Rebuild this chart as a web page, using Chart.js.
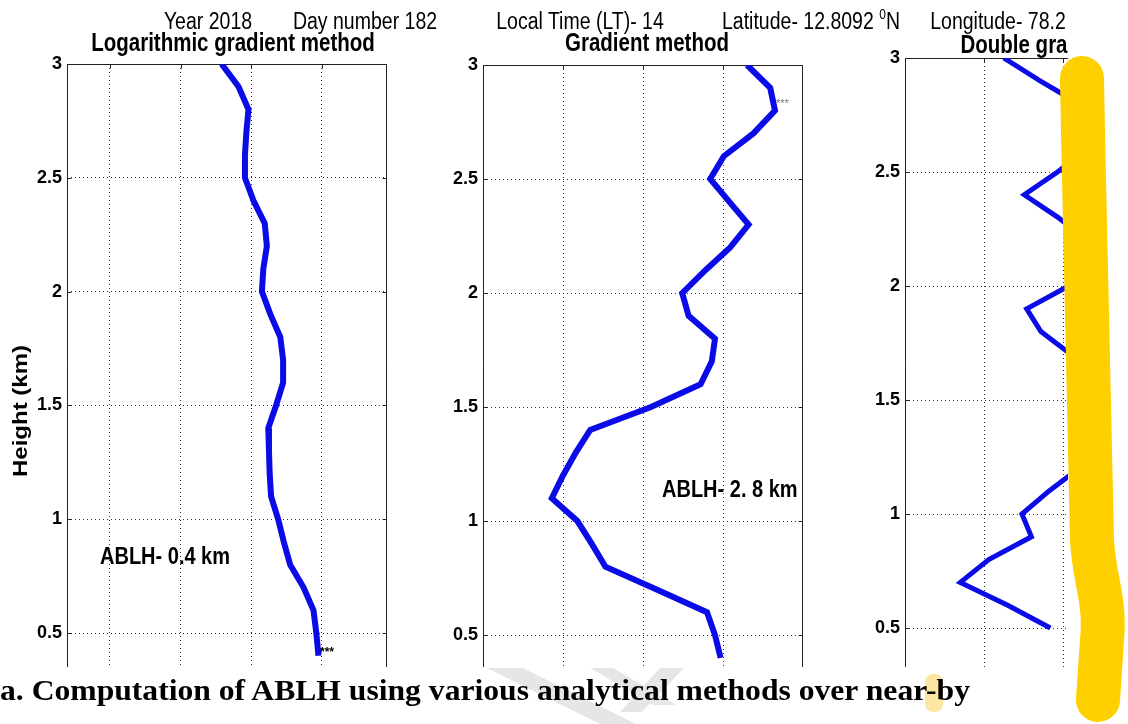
<!DOCTYPE html>
<html>
<head>
<meta charset="utf-8">
<script src="https://cdn.jsdelivr.net/npm/chart.js@4.4.1/dist/chart.umd.min.js"></script>
<style>
  html, body { margin: 0; padding: 0; background: #fff; }
  body { width: 1128px; height: 724px; position: relative; overflow: hidden; }
  canvas { position: absolute; left: 0; top: 0; }
  .t { position: absolute; white-space: nowrap; line-height: 1; color: #000;
       font-family: "Liberation Sans", Arial, sans-serif; transform-origin: 50% 0; }
  .hd { font-size: 19.5px; transform: translateX(-50%) scaleY(1.25); }
  .ti { font-size: 20.5px; font-weight: bold; transform: translateX(-50%) scaleY(1.25); }
  .ab { font-size: 20px; font-weight: bold; transform-origin: 0 0; transform: scaleY(1.2); }
  .hd sup { font-size: 12px; vertical-align: baseline; position: relative; top: -8px; }
  #cap { position: absolute; left: 0; top: 675px; white-space: nowrap; line-height: 1;
         font-family: "Liberation Serif", "Times New Roman", serif; font-weight: bold;
         font-size: 30px; color: #000; transform-origin: 0 0; z-index: 4; }
</style>
</head>
<body>
<canvas id="logChart" width="1128" height="724"></canvas>
<canvas id="gradChart" width="1128" height="724"></canvas>
<canvas id="dblChart" width="1128" height="724"></canvas>

<svg width="1128" height="724" style="position:absolute;left:0;top:0;z-index:3">
  <g fill="#e6e6e6">
    <polygon points="487,668 523,668 636,724 600,724"/>
    <polygon points="590,668 613,668 676,705 653,705"/>
    <polygon points="660,668 684,668 642,712 620,712"/>
  </g>
  <rect x="925" y="674" width="18" height="38" rx="8" fill="#fbe7a2"/>
</svg>

<div class="t hd" style="left:208px;top:9px">Year 2018</div>
<div class="t hd" style="left:365px;top:9px">Day number 182</div>
<div class="t hd" style="left:580px;top:9px">Local Time (LT)- 14</div>
<div class="t hd" style="left:811px;top:9px">Latitude- 12.8092 <sup>0</sup>N</div>
<div class="t hd" style="left:998px;top:9px">Longitude- 78.2</div>

<div class="t ti" style="left:233px;top:30px">Logarithmic gradient method</div>
<div class="t ti" style="left:647px;top:30px">Gradient method</div>
<div class="t ti" style="left:1014px;top:32px">Double gra</div>

<div class="t" style="left:20px;top:411px;font-size:20px;font-weight:bold;transform-origin:50% 50%;transform:translate(-50%,-50%) rotate(-90deg) scale(1.2,1)">Height (km)</div>

<div class="t ab" style="left:100px;top:544px">ABLH- 0.4 km</div>
<div class="t ab" style="left:662px;top:477px">ABLH- 2. 8 km</div>

<div class="t" style="left:320px;top:646px;font-size:12px;font-weight:bold">***</div>
<div class="t" style="left:776px;top:98px;font-size:11px;color:#777">***</div>

<div id="cap">a. Computation of ABLH using various analytical methods over near-by</div>

<svg width="1128" height="724" style="position:absolute;left:0;top:0;z-index:5">
  <path d="M1082 78 C1085 250 1089 430 1092 540 C1094 580 1106 600 1102 640 L1098 700"
        stroke="#ffd000" stroke-width="44" fill="none" stroke-linecap="round" stroke-linejoin="round"/>
</svg>

<script>
// heights (km) of the profile samples, top to bottom
const heights = [3.0, 2.9, 2.8, 2.7, 2.6, 2.5, 2.4, 2.3, 2.2, 2.1, 2.0, 1.9, 1.8, 1.7,
                 1.6, 1.5, 1.4, 1.3, 1.2, 1.1, 1.0, 0.9, 0.8, 0.7, 0.6, 0.5, 0.4];
const logGradX = [2.58, 2.82, 2.96, 2.93, 2.91, 2.91, 3.03, 3.19, 3.22, 3.17, 3.15, 3.27, 3.41, 3.45,
                  3.45, 3.35, 3.24, 3.25, 3.26, 3.28, 3.38, 3.46, 3.55, 3.74, 3.88, 3.92, 3.95];
const gradX = [3.30, 3.59, 3.65, 3.38, 3.01, 2.84, 3.08, 3.32, 3.09, 2.78, 2.49, 2.57, 2.90, 2.86,
               2.72, 2.10, 1.34, 1.16, 1.00, 0.86, 1.18, 1.36, 1.53, 2.17, 2.80, 2.90, 2.97];
const dblHeights = [3.0, 2.9, 2.8, 2.7, 2.6, 2.5, 2.4, 2.3, 2.2, 2.1, 2.0, 1.9, 1.8, 1.7,
                    1.6, 1.5, 1.4, 1.3, 1.2, 1.1, 1.0, 0.9, 0.8, 0.7, 0.6, 0.5];
const dblGradX = [1.25, 1.71, 2.2, 2.4, 2.3, 1.93, 1.51, 1.94, 2.3, 2.4, 2.07, 1.54, 1.72, 2.1,
                  2.4, 2.5, 2.4, 2.3, 2.2, 1.82, 1.48, 1.60, 1.06, 0.70, 1.30, 1.84];

const heightTicks = [0.5, 1, 1.5, 2, 2.5, 3];
const logGridX = [1, 2, 3, 4];
const gradGridX = [1, 2, 3];
const dblGridX = [1, 2];

// matlab style box: solid top/left/right edges with small inward ticks
const frame = {
	id: 'frame',
	beforeDatasetsDraw(chart, args, opts) {
		const {ctx, chartArea: a, scales: {x, y}} = chart;
		const L = Math.round(a.left) + 0.5, R = Math.round(a.right) - 0.5, T = Math.round(a.top) + 0.5;
		ctx.save();
		ctx.strokeStyle = '#222';
		ctx.lineWidth = 1;
		ctx.beginPath();
		ctx.moveTo(L, a.bottom);
		ctx.lineTo(L, T);
		ctx.lineTo(opts.right ? R : a.right, T);
		if (opts.right) ctx.lineTo(R, a.bottom);
		x.ticks.forEach(t => {
			const px = Math.round(x.getPixelForValue(t.value)) + 0.5;
			ctx.moveTo(px, T); ctx.lineTo(px, T + 4);
		});
		y.ticks.forEach(t => {
			const py = Math.round(y.getPixelForValue(t.value)) + 0.5;
			ctx.moveTo(L, py); ctx.lineTo(L + 4, py);
			if (opts.right) { ctx.moveTo(R, py); ctx.lineTo(R - 4, py); }
		});
		ctx.stroke();
		ctx.restore();
	}
};

function makePanel(id, xs, hs, box, xRange, gridX, yMin, lineW, rightEdge) {
	const axisW = 60;
	return new Chart(document.getElementById(id), {
		type: 'line',
		data: {
			datasets: [{
				data: hs.map((h, i) => ({x: xs[i], y: h})),
				borderColor: '#0b0be8',
				borderWidth: lineW,
				pointRadius: 0,
				tension: 0,
				fill: false,
				clip: 0
			}]
		},
		options: {
			responsive: false,
			animation: false,
			devicePixelRatio: 1,
			layout: {padding: {left: box.left - axisW, top: box.top, right: 1128 - box.right, bottom: 724 - box.bottom}},
			plugins: {legend: {display: false}, tooltip: {enabled: false}, frame: {right: rightEdge}},
			scales: {
				x: {
					type: 'linear', min: xRange[0], max: xRange[1],
					ticks: {display: false},
					grid: {color: '#333', lineWidth: 1, drawTicks: false},
					border: {display: false, dash: [1, 3]},
					afterBuildTicks: s => { s.ticks = gridX.map(v => ({value: v})); },
					afterFit: s => { s.height = 0; }
				},
				y: {
					type: 'linear', min: yMin, max: 3,
					ticks: {
						color: '#000', padding: 5,
						font: {family: '"Liberation Sans", Arial, sans-serif', size: 18, weight: 'bold'},
						callback: v => String(v)
					},
					grid: {color: '#333', lineWidth: 1, drawTicks: false},
					border: {display: false, dash: [1, 3]},
					afterBuildTicks: s => { s.ticks = heightTicks.map(v => ({value: v})); },
					afterFit: s => { s.width = axisW; }
				}
			}
		},
		plugins: [frame]
	});
}

makePanel('logChart', logGradX, heights, {left: 67, right: 387, top: 64, bottom: 667}, [0.392, 4.92], logGridX, 0.351, 6, true);
makePanel('gradChart', gradX, heights, {left: 483, right: 803, top: 65, bottom: 667}, [0, 4], gradGridX, 0.36, 6, true);
makePanel('dblChart', dblGradX, dblHeights, {left: 905, right: 1068, top: 58, bottom: 667}, [0, 2.063], dblGridX, 0.329, 5, false);

// stretch the caption to the width it has in the scan
const cap = document.getElementById('cap');
cap.style.transform = 'scaleX(' + (970 / cap.getBoundingClientRect().width) + ')';
</script>
</body>
</html>
